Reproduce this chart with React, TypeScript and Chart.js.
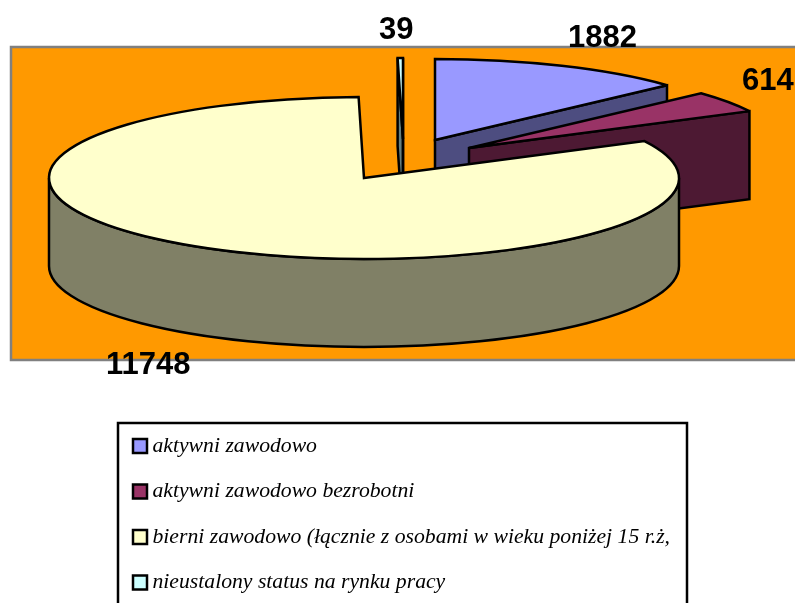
import React, { useEffect, useRef } from "react";
import { Chart, registerables } from "chart.js";

Chart.register(...registerables);

const categories = [
  "aktywni zawodowo",
  "aktywni zawodowo bezrobotni",
  "bierni zawodowo (łącznie z osobami w wieku poniżej 15 r.ż,",
  "nieustalony status na rynku pracy",
];
const values = [1882, 614, 11748, 39];
const sliceColors = ["#9999ff", "#993366", "#ffffcc", "#ccffff"];
const wallColors = ["#4d4d80", "#4d1933", "#808066", "#668080"];
const explodeX = [71, 105, 0, 39];
const explodeY = [-38, -30, 0, -39];
const paintOrder = [3, 0, 1, 2];
const valueLabelX = [568, 742, 106, 379];
const valueLabelY = [47, 90, 374, 39];

const CX = 364;
const CY = 178;
const RX = 315;
const RY = 81;
const DEPTH = 88;

const pie3d = {
  id: "pie3d",
  beforeDraw(chart: any) {
    const { ctx } = chart;
    ctx.save();
    ctx.fillStyle = "#ff9900";
    ctx.strokeStyle = "#808080";
    ctx.lineWidth = 2.5;
    ctx.fillRect(11, 47, 800, 313);
    ctx.strokeRect(11, 47, 800, 313);
    ctx.fillStyle = "#ffffff";
    ctx.strokeStyle = "#000000";
    ctx.lineWidth = 2.5;
    ctx.fillRect(118, 423, 569, 200);
    ctx.strokeRect(118, 423, 569, 200);
    ctx.restore();
    const legend = chart.legend;
    legend.left = 114.55;
    legend.top = 411.35;
    legend.right = 795;
    legend.bottom = 660;
  },
  beforeDatasetsDraw(chart: any) {
    const { ctx } = chart;
    const arcs = chart.getDatasetMeta(0).data;
    ctx.save();
    ctx.lineWidth = 2.5;
    ctx.strokeStyle = "#000000";
    ctx.lineJoin = "miter";
    ctx.miterLimit = 3;
    for (const i of paintOrder) {
      const { startAngle: a, endAngle: b } = arcs[i].getProps(["startAngle", "endAngle"], true);
      const cx = CX + explodeX[i];
      const cy = CY + explodeY[i];
      ctx.fillStyle = wallColors[i];
      const face = (ang: number) => {
        const px = cx + RX * Math.cos(ang);
        const py = cy + RY * Math.sin(ang);
        ctx.beginPath();
        ctx.moveTo(cx, cy);
        ctx.lineTo(px, py);
        ctx.lineTo(px, py + DEPTH);
        ctx.lineTo(cx, cy + DEPTH);
        ctx.closePath();
        ctx.fill();
        ctx.stroke();
      };
      if (Math.cos(a) < 0) face(a);
      if (Math.cos(b) > 0) face(b);
      const f0 = Math.max(a, 0);
      const f1 = Math.min(b, Math.PI);
      if (f1 > f0) {
        ctx.beginPath();
        ctx.ellipse(cx, cy, RX, RY, 0, f0, f1);
        ctx.ellipse(cx, cy + DEPTH, RX, RY, 0, f1, f0, true);
        ctx.closePath();
        ctx.fill();
        ctx.stroke();
      }
      ctx.fillStyle = sliceColors[i];
      ctx.beginPath();
      ctx.moveTo(cx, cy);
      ctx.ellipse(cx, cy, RX, RY, 0, a, b);
      ctx.closePath();
      ctx.fill();
      ctx.stroke();
    }
    ctx.fillStyle = "#000000";
    ctx.font = "bold 31px 'Liberation Sans'";
    ctx.textAlign = "left";
    ctx.textBaseline = "alphabetic";
    values.forEach((v, i) => ctx.fillText(String(v), valueLabelX[i], valueLabelY[i]));
    ctx.restore();
    return false;
  },
};

export default function App() {
  const ref = useRef<HTMLCanvasElement>(null);
  useEffect(() => {
    const chart = new Chart(ref.current as HTMLCanvasElement, {
      type: "pie",
      data: {
        labels: categories,
        datasets: [
          {
            data: values,
            backgroundColor: sliceColors,
            borderColor: "#000000",
            borderWidth: 2.5,
          },
        ],
      },
      options: {
        responsive: false,
        animation: false,
        plugins: {
          tooltip: { enabled: false },
          legend: {
            display: true,
            position: "chartArea",
            align: "start",
            labels: {
              usePointStyle: true,
              pointStyle: "rect",
              boxWidth: 3.3,
              boxHeight: 14,
              padding: 23.8,
              color: "#000000",
              font: { family: "'Liberation Serif'", size: 21.7, style: "italic", weight: "normal" },
            },
          },
        },
      },
      plugins: [pie3d],
    } as any);
    return () => chart.destroy();
  }, []);
  return (
    <canvas
      ref={ref}
      width={795}
      height={603}
      style={{ position: "absolute", left: 0, top: 0, display: "block" }}
    />
  );
}
